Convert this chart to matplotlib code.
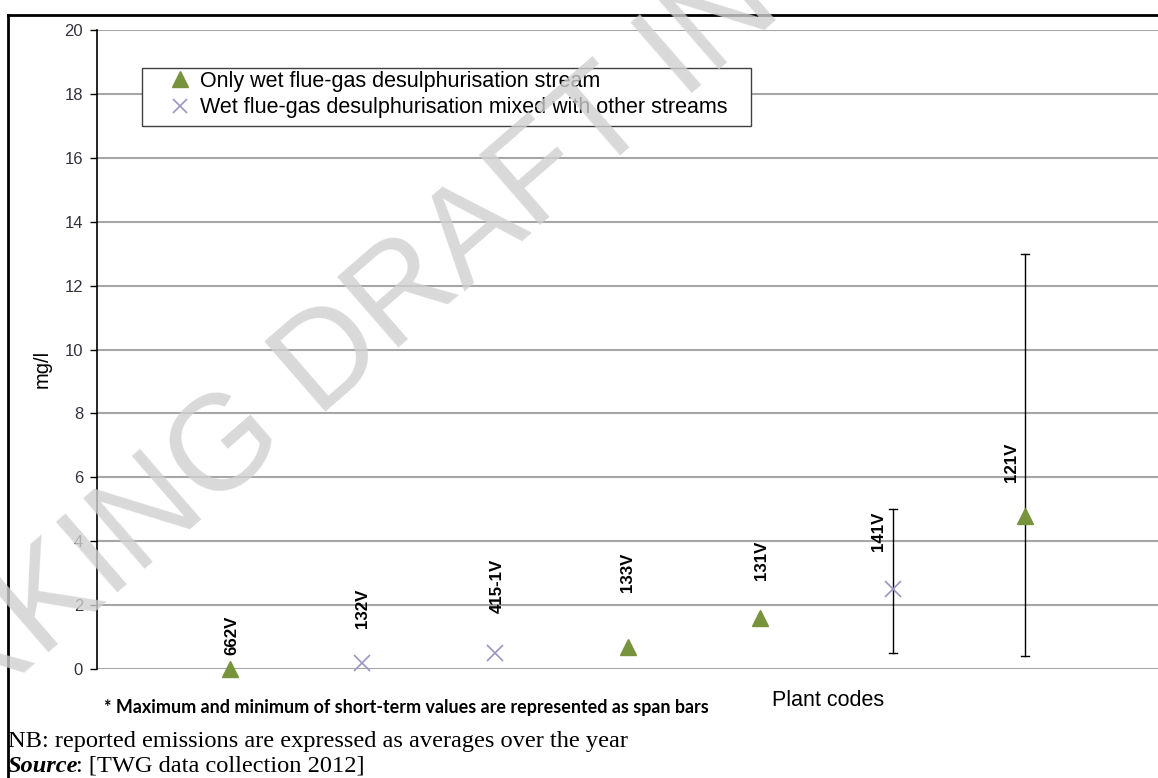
import numpy as np
import matplotlib
matplotlib.use("Agg")
import matplotlib.pyplot as plt
from matplotlib.lines import Line2D
from matplotlib.patches import Rectangle
from matplotlib.legend_handler import HandlerLine2D

# ============================================================
# Data
# ============================================================
plant_codes = ["662V", "132V", "415-1V", "133V", "131V", "141V", "121V"]
# stream type: "only" = only wet FGD stream, "mixed" = FGD mixed with other streams
stream_type = ["only", "mixed", "mixed", "only", "only", "mixed", "only"]
avg_values = [0.0, 0.2, 0.5, 0.7, 1.6, 2.5, 4.8]
max_values = [None, None, None, None, None, 5.0, 13.0]
min_values = [None, None, None, None, None, 0.5, 0.4]

y_ticks = [0, 2, 4, 6, 8, 10, 12, 14, 16, 18, 20]

# label placement (pixels) relative to each point
label_dx = [2, 0, 2, 0, 1, -14, -14]
label_dy = [14, 35, 40, 55, 38, 38, 34]

plt.rcParams["font.family"] = ["Liberation Sans", "DejaVu Sans"]

W, H = 1158, 778
fig = plt.figure(figsize=(W / 100, H / 100), dpi=100)
ax = fig.add_axes([97 / W, 1 - 669 / H, 1 - 97 / W, (669 - 30) / H])

green = "#77933C"
purple = "#9d93c4"

x = np.arange(1, len(plant_codes) + 1)

# gridlines
for yv in y_ticks:
    ax.axhline(yv, color="#a6a6a6", linewidth=1.5, zorder=0)

# span bars (max / min)
for xi, lo, hi in zip(x, min_values, max_values):
    if lo is not None:
        ax.plot([xi, xi], [lo, hi], color="black", linewidth=1, zorder=2)
        ax.plot([xi - 0.03, xi + 0.03], [lo, lo], color="black", linewidth=1, zorder=2)
        ax.plot([xi - 0.03, xi + 0.03], [hi, hi], color="black", linewidth=1, zorder=2)

for xi, v, t in zip(x, avg_values, stream_type):
    if t == "only":
        ax.plot(xi, v, marker="^", color=green, markersize=12, linestyle="none",
                zorder=3, clip_on=False)
    else:
        ax.plot(xi, v, marker="x", color=purple, markersize=11, markeredgewidth=1.2,
                linestyle="none", zorder=3, clip_on=False)

for xi, v, code, dx, dy in zip(x, avg_values, plant_codes, label_dx, label_dy):
    ax.annotate(code, (xi, v), xytext=(dx, dy), textcoords="offset pixels",
                rotation=90, ha="center", va="bottom", fontsize=12.2,
                fontweight="bold", color="black", zorder=4)

ax.set_xlim(0, 8)
ax.set_ylim(0, 20)
ax.set_yticks(y_ticks)
ax.set_xticks([])
ax.tick_params(axis="y", length=5, width=1, labelsize=12, labelcolor="#333340", pad=5)
for s in ["top", "right", "bottom"]:
    ax.spines[s].set_visible(False)
ax.spines["left"].set_linewidth(1.2)
ax.set_ylabel("mg/l", fontsize=14.5)
ax.yaxis.set_label_coords(-45 / 1061, 0.47)

# legend (frame drawn separately to get the wide padding of the original)
handles = [
    Line2D([], [], marker="^", color=green, markersize=11, linestyle="none"),
    Line2D([], [], marker="x", color=purple, markersize=10, markeredgewidth=1.2, linestyle="none"),
]
leg = ax.legend(handles, ["Only wet flue-gas desulphurisation stream",
                          "Wet flue-gas desulphurisation mixed with other streams"],
                loc="upper left", bbox_to_anchor=(160 / W, 1 - 71 / H),
                bbox_transform=fig.transFigure, fontsize=15.5, frameon=False,
                handletextpad=0.35, handlelength=1.5, borderpad=0, labelspacing=0.25,
                borderaxespad=0, handler_map={Line2D: HandlerLine2D(xpad=0.37)})
leg.set_zorder(5)
ax.add_patch(Rectangle((142 / W, 1 - 126 / H), 609 / W, 58 / H,
                       transform=fig.transFigure, facecolor="white",
                       edgecolor="#404040", linewidth=1, zorder=1, clip_on=False))

# texts below the chart
fig.text(104 / W, 1 - 707 / H, "* Maximum and minimum of short-term values are represented as span bars",
         fontsize=12.9, fontweight="bold", family=["Lato", "Liberation Sans"],
         va="center", ha="left")
fig.text(828 / W, 1 - 701 / H, "Plant codes", fontsize=15.5, ha="center", va="center")
fig.text(8 / W, 1 - 742 / H, "NB: reported emissions are expressed as averages over the year",
         fontsize=17.6, family=["Liberation Serif", "DejaVu Serif"], va="center", ha="left")
src = fig.text(8 / W, 1 - 766 / H, "Source", fontsize=17.6, fontweight="bold", style="italic",
               family=["Liberation Serif", "DejaVu Serif"], va="center", ha="left")
ax.annotate(": [TWG data collection 2012]", xy=(1, 0.5), xycoords=src,
            xytext=(-2, 0), textcoords="offset pixels", fontsize=17.6,
            family=["Liberation Serif", "DejaVu Serif"], va="center", ha="left",
            annotation_clip=False)

# outer frame
fig.add_artist(Line2D([8 / W, 1], [1 - 15 / H, 1 - 15 / H], color="black", linewidth=2))
fig.add_artist(Line2D([8 / W, 8 / W], [0, 1 - 15 / H], color="black", linewidth=2))

# watermark
fig.text(568 / W, 1 - 155 / H, "WORKING DRAFT IN PROGRESS", fontsize=97,
         rotation=41, rotation_mode="anchor", ha="center", va="center",
         color="#d0d0d0", alpha=0.8, zorder=10)

fig.savefig("out.png", dpi=100)
